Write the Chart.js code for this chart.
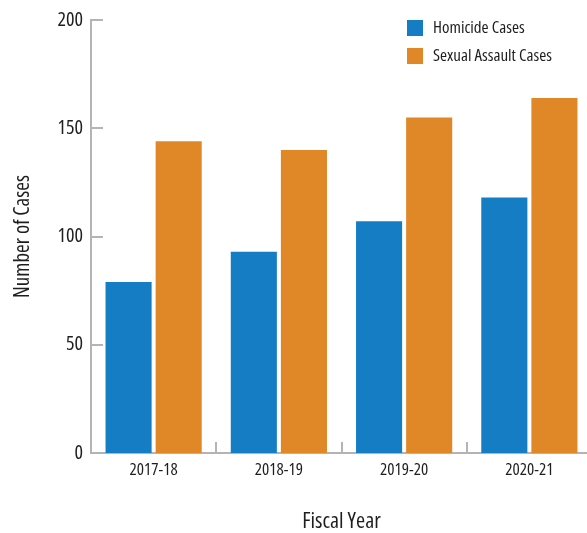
<!DOCTYPE html>
<html>
<head>
<meta charset="utf-8">
<script src="https://cdn.jsdelivr.net/npm/chart.js@4"></script>
<style>
  html, body { margin: 0; padding: 0; background: #fff; overflow: hidden; }
  #wrap { width: 593px; height: 533px; position: relative; }
</style>
</head>
<body>
<div id="wrap"><canvas id="myChart"></canvas></div>
<script>
/* CHART DATA */

var fiscalYears = ["2017-18", "2018-19", "2019-20", "2020-21"];
var homicideCases = [79, 93, 107, 118];
var sexualAssaultCases = [144, 140, 155, 164];
var yTicks = [0, 50, 100, 150, 200];
var seriesNames = ["Homicide Cases", "Sexual Assault Cases"];

// condensed face of Open Sans, picked through the font-stretch keyword
var FONT = "'Open Sans', 'DejaVu Sans Condensed', sans-serif";
var STRETCH = 'condensed';
var TEXT = '#1e1e1e';
var AXIS = '#b4b4b4';

/* SMALL TICK MARKS DRAWN INSIDE THE PLOT */

var innerTicks = {
  id: 'innerTicks',
  afterDraw: function(chart) {
    var ctx = chart.ctx;
    var x = chart.scales.x;
    var y = chart.scales.y;
    ctx.save();
    ctx.strokeStyle = AXIS;
    ctx.lineWidth = 2;
    ctx.beginPath();
    yTicks.forEach(function(v) {
      var py = Math.round(y.getPixelForValue(v));
      ctx.moveTo(x.left, py);
      ctx.lineTo(x.left + 12, py);
    });
    for (var i = 1; i < fiscalYears.length; i++) {
      var px = Math.round((x.getPixelForValue(i - 1) + x.getPixelForValue(i)) / 2);
      ctx.moveTo(px, y.bottom);
      ctx.lineTo(px, y.bottom - 11);
    }
    ctx.stroke();
    ctx.restore();
  }
};

/* LEGEND IN THE TOP RIGHT CORNER */

var cornerLegend = {
  id: 'cornerLegend',
  afterDraw: function(chart) {
    var ctx = chart.ctx;
    var top = chart.chartArea.top;
    ctx.save();
    ctx.font = STRETCH + " 17px " + FONT;
    ctx.textBaseline = 'middle';
    chart.data.datasets.forEach(function(ds, i) {
      var rowY = top + i * 28;
      ctx.fillStyle = ds.backgroundColor;
      ctx.fillRect(407, rowY, 16, 16);
      ctx.fillStyle = TEXT;
      ctx.fillText(ds.label, 433, rowY + 8);
    });
    ctx.restore();
  }
};

/* CREATE CHART WITH CHART.JS */

function printChart() {
  var ctx = document.getElementById('myChart').getContext('2d');
  return new Chart(ctx, {
    type: 'bar',
    data: {
      labels: fiscalYears,
      datasets: [{
        label: seriesNames[0],
        data: homicideCases,
        backgroundColor: '#157dc3'
      }, {
        label: seriesNames[1],
        data: sexualAssaultCases,
        backgroundColor: '#e08828'
      }]
    },
    options: {
      responsive: true,
      maintainAspectRatio: false,
      animation: false,
      layout: { padding: { top: 19, right: 1, left: 0, bottom: 0 } },
      plugins: {
        legend: { display: false },
        tooltip: { enabled: false }
      },
      datasets: {
        bar: { categoryPercentage: 0.8, barPercentage: 0.92 }
      },
      scales: {
        x: {
          grid: { display: false, drawTicks: false },
          border: { display: true, color: AXIS, width: 2 },
          ticks: { color: TEXT, font: { family: FONT, weight: STRETCH, size: 17 }, padding: 7, maxRotation: 0 },
          title: { display: true, text: 'Fiscal Year', color: TEXT, font: { family: FONT, weight: STRETCH, size: 22, lineHeight: 1 }, padding: { top: 0, bottom: 0 } },
          afterFit: function(s) { s.height = 80; }
        },
        y: {
          min: 0,
          max: 200,
          afterBuildTicks: function(s) { s.ticks = yTicks.map(function(v) { return { value: v }; }); },
          grid: { display: false, drawTicks: false },
          border: { display: true, color: AXIS, width: 2 },
          ticks: { color: TEXT, font: { family: FONT, weight: STRETCH, size: 20 }, padding: 8 },
          title: { display: true, text: 'Number of Cases', color: TEXT, font: { family: FONT, weight: STRETCH, size: 21, lineHeight: 1 }, padding: { top: 13, bottom: 0 } },
          afterFit: function(s) { s.width = 91; }
        }
      }
    },
    plugins: [innerTicks, cornerLegend]
  });
}

printChart();
</script>
</body>
</html>
